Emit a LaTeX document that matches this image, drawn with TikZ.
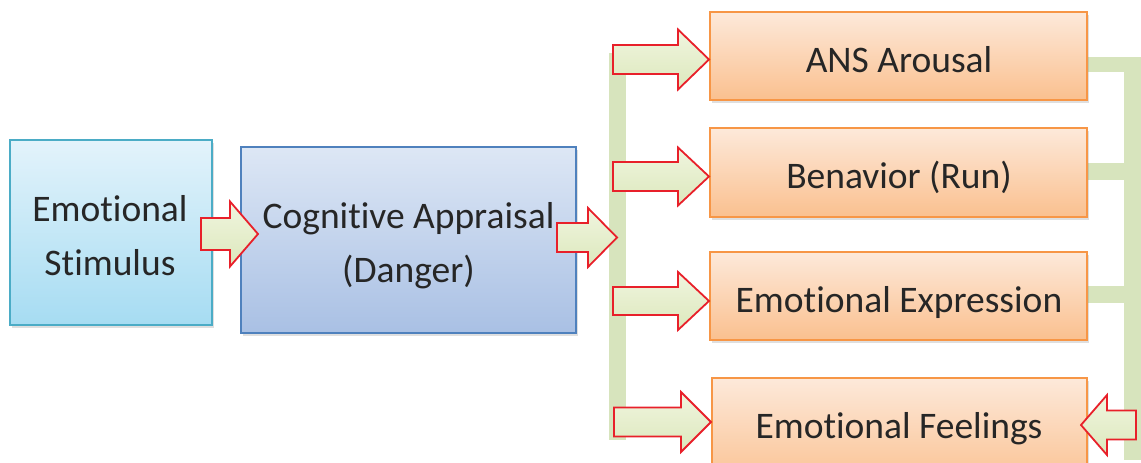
\documentclass[tikz,border=0pt]{standalone}
\usepackage{fontspec}
\setmainfont{Carlito}[Ligatures={NoCommon,NoRare}]
\usetikzlibrary{shadows}
\definecolor{txt}{HTML}{262626}
\definecolor{cyanT}{HTML}{E3F3FB}
\definecolor{cyanB}{HTML}{A6DCF2}
\definecolor{cyanD}{HTML}{4BACC6}
\definecolor{blueT}{HTML}{DDE7F5}
\definecolor{blueB}{HTML}{A9C0E4}
\definecolor{blueD}{HTML}{4F81BD}
\definecolor{orT}{HTML}{FDE9DA}
\definecolor{orB}{HTML}{FAC08F}
\definecolor{orD}{HTML}{F79646}
\definecolor{grT}{HTML}{F0F5DF}
\definecolor{grB}{HTML}{DCE8BC}
\definecolor{bar}{HTML}{D7E4BD}
\definecolor{arrRed}{HTML}{E8202A}
\tikzset{
  boxbase/.style={rectangle, inner sep=0pt, line width=1.3pt,
     drop shadow={shadow xshift=2pt, shadow yshift=-2.5pt, opacity=0.25}},
  stimbox/.style={boxbase, draw=cyanD, top color=cyanT, bottom color=cyanB},
  cogbox/.style={boxbase, draw=blueD, top color=blueT, bottom color=blueB},
  outbox/.style={boxbase, draw=orD, top color=orT, bottom color=orB},
  lbl/.style={anchor=base, inner sep=0pt, text=txt, font=\fontsize{37.5}{54}\selectfont},
  barfill/.style={fill=bar, draw=none},
  blockarr/.style={draw=arrRed, line width=1.8pt, line join=miter, top color=grT, bottom color=grB}
}
% right/left block arrow: #1 tail x, #2 head base x, #3 tip x, #4 centre y, #5 shaft half, #6 head half
\newcommand\blockarrow[6]{%
  \shadedraw[blockarr] (#1,#4-#5) -- (#2,#4-#5) -- (#2,#4-#6) -- (#3,#4) -- (#2,#4+#6) -- (#2,#4+#5) -- (#1,#4+#5) -- cycle;}
\begin{document}
\begin{tikzpicture}[x=1pt,y=-1pt]
\useasboundingbox (0,0) rectangle (1141,463);
\clip (0,0) rectangle (1141,463);
% green brackets
\fill[barfill] (609,53) rectangle (626,440);
\fill[barfill] (1124,57) rectangle (1141,460);
\fill[barfill] (1087,57) rectangle (1141,72);
\fill[barfill] (1087,163) rectangle (1141,180);
\fill[barfill] (1087,286) rectangle (1141,303);
% boxes
\node[stimbox, minimum width=202pt, minimum height=185pt] (stim) at (111,232.5) {};
\node[cogbox, minimum width=335pt, minimum height=186pt] (cog) at (408.5,240) {};
\node[outbox, minimum width=377pt, minimum height=88pt] (ans) at (898.5,56) {};
\node[outbox, minimum width=377pt, minimum height=89pt] (beh) at (898.5,172.5) {};
\node[outbox, minimum width=377pt, minimum height=88pt] (expr) at (898.5,296) {};
\node[outbox, minimum width=375pt, minimum height=110pt] (feel) at (899.5,433) {};
% texts
\node[lbl] (t1) at (110,221) {Emotional};
\node[lbl] (t2) at (110,275) {Stimulus};
\node[lbl] (t3) at (408.5,228) {Cognitive Appraisal};
\node[lbl] (t4) at (408.5,282) {(Danger)};
\node[lbl] (t5) at (899,72) {ANS Arousal};
\node[lbl] (t6) at (899,188) {Benavior (Run)};
\node[lbl] (t7) at (899,312) {Emotional Expression};
\node[lbl] (t8) at (899,438) {Emotional Feelings};
% block arrows
\blockarrow{201}{230}{258}{234}{16}{32.5}
\blockarrow{557}{588}{617}{237.5}{14.5}{29.5}
\blockarrow{613}{678}{709}{59.5}{14.5}{30}
\blockarrow{613}{678}{709}{176.5}{14.5}{29}
\blockarrow{613}{678}{709}{301}{14}{29}
\blockarrow{614}{681}{711}{422}{14.5}{30}
\blockarrow{1136}{1107}{1081}{425}{14.5}{30}
\end{tikzpicture}
\end{document}
